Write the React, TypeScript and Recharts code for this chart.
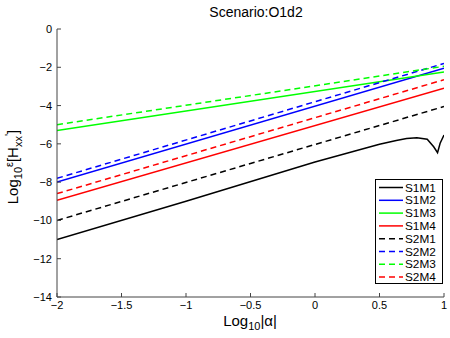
import { LineChart, Line, XAxis, YAxis } from "recharts";

// x positions (log10 |alpha|)
const lineEnds = [-2, 1];
const s1m1X = [-2, -1, 0, 0.5, 0.63, 0.71, 0.79, 0.87, 0.92, 0.95, 0.97, 1];

// log10 eps[Hxx'] values
const s1m1Vals = [-11, -9, -6.95, -6.02, -5.82, -5.72, -5.68, -5.76, -6.15, -6.46, -5.97, -5.54];
const s1m2Vals = [-8.0, -2.05];
const s1m3Vals = [-5.3, -2.25];
const s1m4Vals = [-8.95, -3.1];
const s2m1Vals = [-10.0, -4.05];
const s2m2Vals = [-7.8, -1.8];
const s2m3Vals = [-5.0, -1.95];
const s2m4Vals = [-8.6, -2.65];

const xTicks = [-2, -1.5, -1, -0.5, 0, 0.5, 1];
const yTicks = [0, -2, -4, -6, -8, -10, -12, -14];

const toPoints = (xs: number[], ys: number[]) => xs.map((x, i) => ({ x, y: ys[i] }));

const series = [
  { name: "S1M1", color: "#000000", dash: undefined, data: toPoints(s1m1X, s1m1Vals) },
  { name: "S1M2", color: "#0000ff", dash: undefined, data: toPoints(lineEnds, s1m2Vals) },
  { name: "S1M3", color: "#00ff00", dash: undefined, data: toPoints(lineEnds, s1m3Vals) },
  { name: "S1M4", color: "#ff0000", dash: undefined, data: toPoints(lineEnds, s1m4Vals) },
  { name: "S2M1", color: "#000000", dash: "6 4", data: toPoints(lineEnds, s2m1Vals) },
  { name: "S2M2", color: "#0000ff", dash: "6 4", data: toPoints(lineEnds, s2m2Vals) },
  { name: "S2M3", color: "#00ff00", dash: "6 4", data: toPoints(lineEnds, s2m3Vals) },
  { name: "S2M4", color: "#ff0000", dash: "6 4", data: toPoints(lineEnds, s2m4Vals) },
];

const FONT = "'Liberation Sans', Arial, sans-serif";

const fmt = (v: number) => String(v).replace("-", "\u2212");

function XTick(props: any) {
  const { x, y, payload } = props;
  return (
    <g>
      <line x1={x} x2={x} y1={y} y2={y - 4} stroke="#444" strokeWidth={1} />
      <text x={x} y={y + 12} textAnchor="middle" fontSize={11} fill="#000" fontFamily={FONT}>
        {fmt(payload.value)}
      </text>
    </g>
  );
}

function YTick(props: any) {
  const { x, y, payload } = props;
  return (
    <g>
      <line x1={x} x2={x + 4} y1={y} y2={y} stroke="#444" strokeWidth={1} />
      <text x={x - 5} y={y + 4} textAnchor="end" fontSize={11} fill="#000" fontFamily={FONT}>
        {fmt(payload.value)}
      </text>
    </g>
  );
}

function LegendBox() {
  return (
    <svg width={68} height={105} style={{ display: "block" }}>
      <rect x={0.5} y={0.5} width={67} height={104} fill="#fff" stroke="#000" strokeWidth={1} />
      {series.map((s, i) => {
        const cy = 8.5 + i * 12.8;
        return (
          <g key={s.name}>
            <line x1={4} x2={28} y1={cy} y2={cy} stroke={s.color} strokeWidth={1.5} strokeDasharray={s.dash} />
            <text x={30} y={cy + 4} fontSize={11.8} fill="#000" fontFamily={FONT}>
              {s.name}
            </text>
          </g>
        );
      })}
    </svg>
  );
}

export default function App() {
  return (
    <div style={{ position: "absolute", left: 0, top: 0, width: 450, height: 338, background: "#fff" }}>
      <LineChart width={450} height={338} margin={{ top: 29, right: 6, left: 0, bottom: 0 }}>
        <XAxis
          dataKey="x"
          type="number"
          domain={[-2, 1]}
          ticks={xTicks}
          allowDataOverflow
          height={41}
          stroke="#444"
          tickSize={0}
          tickMargin={0}
          tickLine={false}
          tick={<XTick />}
        />
        <YAxis
          dataKey="y"
          type="number"
          domain={[-14, 0]}
          ticks={yTicks}
          allowDataOverflow
          width={57}
          stroke="#444"
          tickSize={0}
          tickMargin={0}
          tickLine={false}
          tick={<YTick />}
        />
        {series.map((s) => (
          <Line
            key={s.name}
            data={s.data}
            dataKey="y"
            name={s.name}
            stroke={s.color}
            strokeWidth={1.5}
            strokeDasharray={s.dash}
            dot={false}
            activeDot={false}
            type="linear"
            isAnimationActive={false}
          />
        ))}
        <text x={256} y={17} textAnchor="middle" fontSize={14} fill="#000" fontFamily={FONT}>
          Scenario:O1d2
        </text>
        <text x={250} y={326} textAnchor="middle" fontSize={15} fill="#000" fontFamily={FONT}>
          Log
          <tspan fontSize={11} dy={4}>10</tspan>
          <tspan dy={-4}>|α|</tspan>
        </text>
        <text
          x={0}
          y={0}
          transform="translate(18,167) rotate(-90)"
          textAnchor="middle"
          fontSize={15}
          fill="#000"
          fontFamily={FONT}
        >
          Log
          <tspan fontSize={11} dy={4}>10</tspan>
          <tspan fontSize={11} dy={-9}>ε</tspan>
          <tspan dy={5}>[H</tspan>
          <tspan fontSize={11} dy={4}>xx</tspan>
          <tspan fontSize={11} dy={-9}>'</tspan>
          <tspan dy={5}>]</tspan>
        </text>
      </LineChart>
      <div style={{ position: "absolute", left: 375, top: 179 }}>
        <LegendBox />
      </div>
    </div>
  );
}
